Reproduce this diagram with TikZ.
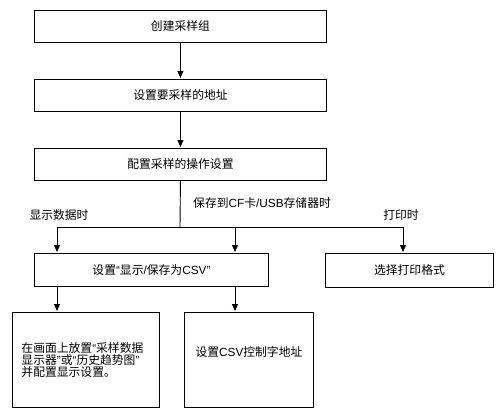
\documentclass[tikz,border=0pt]{standalone}
\usepackage{fontspec}
\setmainfont{Liberation Sans}
\newfontfamily\cjk{Noto Sans CJK SC}
\newcommand\lt[1]{{\rmfamily #1}}
\usetikzlibrary{arrows.meta}
\begin{document}
\begin{tikzpicture}[x=1pt,y=-1pt,
  txt/.style={font=\cjk\fontsize{11.8}{12.2}\selectfont},
  box/.style={draw, line width=0.9pt, inner sep=0pt, anchor=north west, txt},
  lbl/.style={inner sep=0pt, txt},
  arr/.style={line width=0.9pt, -{Triangle[width=6pt,length=7pt]}, shorten >=1pt},
  ln/.style={line width=0.9pt}]
\useasboundingbox (0,0) rectangle (502,412);
\node[box, minimum width=292, minimum height=32] (b1) at (34,10) {创建采样组};
\node[box, minimum width=292, minimum height=32] (b2) at (34,79) {设置要采样的地址};
\node[box, minimum width=292, minimum height=32] (b3) at (34,148) {配置采样的操作设置};
\node[box, minimum width=234, minimum height=33] (b4) at (34,253) {设置\lt{“}显示\lt{/}保存为\lt{CSV”}};
\node[box, minimum width=168, minimum height=34] (b7) at (325,253) {选择打印格式};
\node[box, minimum width=147, minimum height=95, inner sep=9pt, text width=129, align=left] (b5) at (12,312)
  {在画面上放置\lt{“}采样数据\\显示器\lt{”}或\lt{“}历史趋势图\lt{”}\\并配置显示设置。};
\node[box, minimum width=129, minimum height=95] (b6) at (184,312) {};
\node[lbl] (b6t) at ([yshift=7.5]b6.center) {设置\lt{CSV}控制字地址};
\node[lbl] (l1) at (59,215) {显示数据时};
\node[lbl, anchor=west] (l2) at (193,203) {保存到\lt{CF}卡\lt{/USB}存储器时};
\node[lbl] (l3) at (401,215) {打印时};
\coordinate (j) at (180,227);
\coordinate (jl) at (57,227);
\coordinate (jm) at (235,227);
\coordinate (jr) at (403,227);
\draw[arr] (b1) -- (b2);
\draw[arr] (b2) -- (b3);
\draw[ln] (b3.south) -- (j);
\draw[ln] (jl) -- (jr);
\draw[arr] (jl) -- (jl |- b4.north);
\draw[arr] (jm) -- (jm |- b4.north);
\draw[arr] (jr) -- (jr |- b7.north);
\draw[arr] (jl |- b4.south) -- (jl |- b5.north);
\draw[arr] (jm |- b4.south) -- (jm |- b6.north);
\end{tikzpicture}
\end{document}
